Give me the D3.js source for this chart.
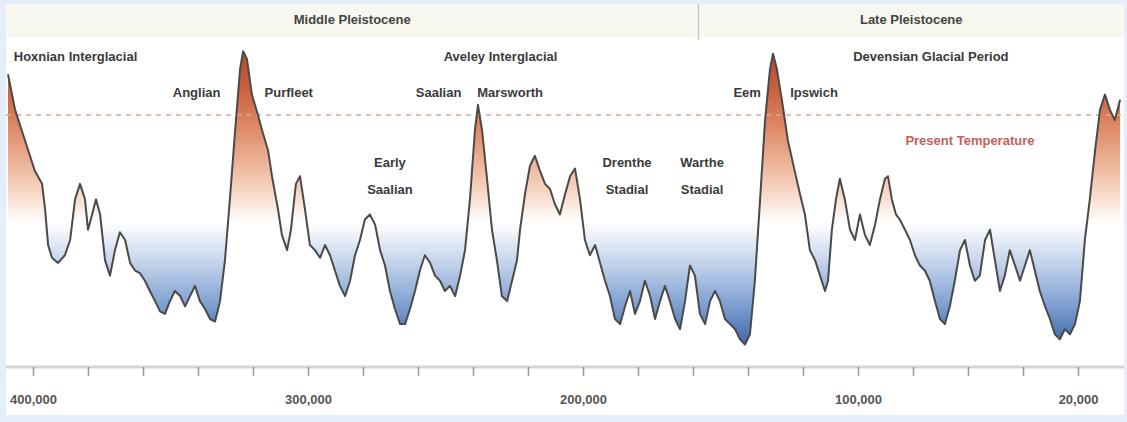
<!DOCTYPE html>
<html>
<head>
<meta charset="utf-8">
<script src="https://cdn.jsdelivr.net/npm/d3@7"></script>
<style>
  html, body { margin: 0; padding: 0; background: #e3eef9; }
  svg { display: block; font-family: "Liberation Sans", Arial, sans-serif; }
</style>
</head>
<body>
<svg id="chart" width="1127" height="422"></svg>
<script>
// Antarctic temperature reconstruction: [thousand years ago, anomaly °C vs. present]
const vostokSeries = [
  [409.1, 1.6], [406.5, 0.2], [402.9, -1.0], [399.3, -2.2], [396.7, -2.7], [395.6, -3.7],
  [394.5, -5.1], [393.1, -5.6], [390.9, -5.8], [388.4, -5.5], [386.5, -4.9], [384.7, -3.3],
  [382.9, -2.7], [381.1, -3.3], [380.0, -4.5], [378.5, -3.9], [377.1, -3.3], [375.6, -3.9],
  [373.8, -5.7], [372.0, -6.3], [370.2, -5.3], [368.4, -4.6], [366.5, -4.9], [364.7, -5.8],
  [362.9, -6.1], [361.1, -6.2], [359.3, -6.5], [357.5, -6.9], [355.6, -7.3], [353.8, -7.7],
  [352.0, -7.8], [350.2, -7.3], [348.4, -6.9], [346.5, -7.1], [344.7, -7.5], [342.9, -7.1],
  [341.1, -6.7], [339.3, -7.3], [337.5, -7.6], [335.6, -8.0], [333.8, -8.1], [332.0, -7.3],
  [330.2, -5.7], [328.4, -3.3], [326.5, -0.6], [324.7, 1.8], [323.6, 2.5], [322.2, 2.2],
  [320.4, 0.8], [318.2, 0.0], [316.7, -0.6], [314.5, -1.4], [313.1, -2.4], [310.9, -3.7],
  [309.5, -4.7], [307.6, -5.3], [306.2, -4.5], [304.4, -2.7], [302.9, -2.4], [301.1, -3.7],
  [299.3, -5.1], [297.5, -5.3], [295.6, -5.6], [293.8, -5.1], [292.0, -5.5], [290.2, -6.1],
  [288.4, -6.7], [286.5, -7.1], [284.7, -6.5], [282.9, -5.5], [281.1, -4.9], [279.3, -4.1],
  [277.5, -3.9], [275.6, -4.3], [273.8, -5.3], [272.0, -5.9], [270.2, -6.9], [268.4, -7.6],
  [266.5, -8.2], [264.7, -8.2], [262.9, -7.6], [261.1, -6.9], [259.3, -6.1], [257.5, -5.5],
  [255.6, -5.8], [253.8, -6.3], [252.0, -6.5], [250.2, -6.9], [248.4, -6.7], [246.5, -7.1],
  [244.7, -6.3], [242.9, -5.3], [241.1, -3.3], [239.3, -0.6], [238.2, 0.4], [236.7, -0.6],
  [234.9, -2.5], [233.1, -4.5], [231.3, -5.7], [229.5, -7.1], [227.6, -7.3], [225.8, -6.5],
  [224.0, -5.7], [222.9, -4.5], [221.1, -3.1], [219.3, -2.0], [217.5, -1.6], [215.6, -2.2],
  [213.8, -2.7], [212.0, -2.9], [210.2, -3.5], [208.4, -3.9], [206.5, -3.1], [204.7, -2.4],
  [202.9, -2.1], [201.1, -3.3], [199.3, -4.9], [197.5, -5.5], [195.6, -5.1], [193.8, -5.8],
  [192.0, -6.5], [190.2, -7.1], [188.4, -8.0], [186.5, -8.2], [184.7, -7.5], [182.9, -6.9],
  [181.1, -7.8], [179.3, -7.3], [177.5, -6.5], [175.6, -7.1], [173.8, -8.0], [172.0, -7.3],
  [170.2, -6.7], [168.4, -7.3], [166.5, -8.0], [164.7, -8.4], [162.9, -7.3], [161.1, -5.9],
  [159.3, -6.3], [157.5, -7.8], [155.6, -8.2], [153.8, -7.3], [152.0, -6.9], [150.2, -7.3],
  [148.4, -8.0], [146.5, -8.2], [144.7, -8.4], [142.9, -8.8], [141.1, -9.0], [139.3, -8.6],
  [137.5, -6.5], [135.6, -3.3], [133.8, -0.2], [132.0, 1.8], [130.9, 2.4], [129.5, 1.8],
  [127.7, 0.6], [125.5, -1.0], [123.0, -2.2], [121.1, -3.1], [119.3, -3.9], [117.5, -5.3],
  [115.6, -5.7], [113.8, -6.3], [112.0, -6.9], [110.9, -6.5], [109.5, -4.5], [108.0, -3.3],
  [106.6, -2.5], [104.8, -3.3], [102.9, -4.5], [101.1, -4.9], [99.3, -3.9], [97.5, -4.7],
  [95.7, -5.1], [93.8, -4.3], [92.0, -3.3], [90.2, -2.5], [89.1, -2.4], [87.7, -3.3],
  [86.2, -3.9], [84.8, -4.1], [82.9, -4.5], [81.1, -4.9], [79.3, -5.5], [77.5, -5.9],
  [75.7, -6.1], [73.9, -6.5], [72.0, -7.3], [70.2, -8.0], [68.4, -8.2], [66.6, -7.5],
  [64.8, -6.5], [62.9, -5.3], [61.1, -4.9], [59.3, -5.9], [57.5, -6.5], [55.7, -6.3],
  [53.8, -4.9], [52.0, -4.5], [50.2, -5.7], [48.4, -6.9], [46.6, -6.3], [44.8, -5.3],
  [42.9, -5.9], [41.1, -6.5], [39.3, -5.9], [37.5, -5.3], [35.7, -6.1], [33.9, -6.9],
  [32.0, -7.5], [30.2, -8.0], [28.4, -8.6], [26.6, -8.8], [24.8, -8.4], [22.9, -8.6],
  [21.1, -8.2], [19.3, -7.3], [17.5, -4.9], [15.7, -3.3], [13.8, -1.4], [12.0, 0.2],
  [10.2, 0.8], [8.4, 0.2], [6.6, -0.2], [4.7, 0.6]
];

// Tick marks every 20,000 years; labelled ones listed separately
const tickAges = [400, 380, 360, 340, 320, 300, 280, 260, 240, 220, 200, 180, 160, 140, 120, 100, 80, 60, 40, 20];
const labelledAges = [400, 300, 200, 100, 20];

// Period band across the top
const periods = [
  { name: "Middle Pleistocene", from: 412, to: 158 },
  { name: "Late Pleistocene", from: 158, to: 0 }
];

// Stage annotations: [text lines, age of anchor, temperature of first baseline, anchor]
const stageNotes = [
  [["Hoxnian Interglacial"], 407.0, 2.12, "start"],
  [["Aveley Interglacial"], 230.0, 2.12, "middle"],
  [["Devensian Glacial Period"], 73.5, 2.12, "middle"],
  [["Anglian"], 340.5, 0.7, "middle"],
  [["Purfleet"], 307.0, 0.7, "middle"],
  [["Saalian"], 252.5, 0.7, "middle"],
  [["Marsworth"], 226.5, 0.7, "middle"],
  [["Eem"], 140.3, 0.7, "middle"],
  [["Ipswich"], 116.0, 0.7, "middle"],
  [["Early", "Saalian"], 270.2, -2.04, "middle"],
  [["Drenthe", "Stadial"], 184.0, -2.04, "middle"],
  [["Warthe", "Stadial"], 156.7, -2.04, "middle"]
];
const presentLevel = 0;
const presentNote = ["Present Temperature", 59.3, -1.18];

const svg = d3.select("#chart");

const x = d3.scaleLinear().domain([412, 0]).range([0, 1133]);
const y = d3.scaleLinear().domain([-10, 3]).range([370, 38.5]);
const baseTemp = -4.2;

// frame
svg.append("rect").attr("x", 6).attr("y", 4).attr("width", 1118).attr("height", 411).attr("fill", "#ffffff");

// period band
const band = svg.append("g");
band.append("rect").attr("x", 6).attr("y", 4).attr("width", 1118).attr("height", 33).attr("fill", "#f8f7f0");
periods.forEach(p => {
  const x0 = Math.max(6, x(p.from)), x1 = Math.min(1124, x(p.to));
  band.append("text")
    .attr("x", (x0 + x1) / 2).attr("y", 24)
    .attr("text-anchor", "middle")
    .attr("font-size", 13).attr("font-weight", "bold").attr("fill", "#444")
    .text(p.name);
});
band.append("line")
  .attr("x1", x(periods[1].from)).attr("x2", x(periods[1].from))
  .attr("y1", 4).attr("y2", 40)
  .attr("stroke", "#c8c8c8").attr("stroke-width", 1.5);

// colour ramp keyed to temperature
const defs = svg.append("defs");
const grad = defs.append("linearGradient")
  .attr("id", "tempRamp").attr("gradientUnits", "userSpaceOnUse")
  .attr("x1", 0).attr("x2", 0).attr("y1", y(2.6)).attr("y2", y(-9.1));
const rampStops = [
  [2.6, "#b3472b"], [1.0, "#c9623f"], [-0.5, "#dd8a67"], [-2.0, "#eeb79c"],
  [-3.4, "#fae3d6"], [-4.2, "#ffffff"], [-5.0, "#e2eaf6"], [-6.2, "#b3c7e5"],
  [-7.5, "#7c9ed0"], [-9.1, "#3a64a5"]
];
const gy0 = y(2.6), gy1 = y(-9.1);
rampStops.forEach(([t, c]) => {
  grad.append("stop").attr("offset", (y(t) - gy0) / (gy1 - gy0)).attr("stop-color", c);
});

defs.append("clipPath").attr("id", "plotClip")
  .append("rect").attr("x", 6).attr("y", 38).attr("width", 1118).attr("height", 330);

const plot = svg.append("g").attr("clip-path", "url(#plotClip)");

const area = d3.area()
  .x(d => x(d[0]))
  .y0(y(baseTemp))
  .y1(d => y(d[1]));

plot.append("path").datum(vostokSeries)
  .attr("d", area)
  .attr("fill", "url(#tempRamp)");

// present-day reference level
plot.append("line")
  .attr("x1", 6).attr("x2", 1124)
  .attr("y1", y(presentLevel)).attr("y2", y(presentLevel))
  .attr("stroke", "#e3a3a0").attr("stroke-width", 1.5)
  .attr("stroke-dasharray", "5,5");

plot.append("path").datum(vostokSeries)
  .attr("d", d3.line().x(d => x(d[0])).y(d => y(d[1])))
  .attr("fill", "none")
  .attr("stroke", "#4a4a4a")
  .attr("stroke-width", 2)
  .attr("stroke-linejoin", "round");

// annotations
const notes = svg.append("g").attr("font-size", 13).attr("font-weight", "bold").attr("fill", "#3a3a3a");
stageNotes.forEach(([lines, age, temp, anchor]) => {
  const t = notes.append("text")
    .attr("x", x(age)).attr("y", y(temp))
    .attr("text-anchor", anchor);
  lines.forEach((ln, i) => {
    t.append("tspan").attr("x", x(age)).attr("dy", i === 0 ? 0 : 27).text(ln);
  });
});
svg.append("text")
  .attr("x", x(presentNote[1])).attr("y", y(presentNote[2]))
  .attr("text-anchor", "middle")
  .attr("font-size", 13).attr("font-weight", "bold").attr("fill", "#c8605a")
  .text(presentNote[0]);

// time axis
const axisY = 367;
const axis = d3.axisBottom(x)
  .tickValues(tickAges)
  .tickSize(9)
  .tickFormat(d => labelledAges.includes(d) ? d3.format(",")(d * 1000) : "");
const ax = svg.append("g").attr("transform", `translate(0,${axisY})`).call(axis);
ax.select(".domain").attr("stroke", "#d4d4d4").attr("stroke-width", 3)
  .attr("d", "M6,0H1124");
ax.selectAll(".tick line").attr("stroke", "#9a9a9a").attr("stroke-width", 1.5);
ax.selectAll(".tick text")
  .attr("font-size", 13).attr("font-weight", "bold").attr("fill", "#555")
  .attr("font-family", "Liberation Sans, Arial, sans-serif")
  .attr("dy", "1.9em");
</script>
</body>
</html>
